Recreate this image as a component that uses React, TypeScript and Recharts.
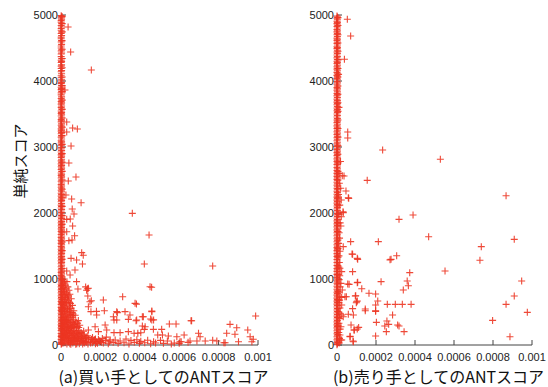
import React from 'react';
import { ScatterChart, Scatter, XAxis, YAxis } from 'recharts';

// x = ANT score in units of 1e-6, y = simple score

// (a) buyer: dense column sitting on x = 0
const buyerColumnY = [
  4990, 4955, 4915, 4890, 4840, 4795, 4770, 4720, 4665, 4640, 4590, 4530, 4500, 4455, 4410, 4370,
  4315, 4280, 4225, 4190, 4140, 4080, 4050, 4000, 3960, 3905, 3870, 3820, 3790, 3735, 3690, 3650,
  3600, 3545, 3510, 3470, 3415, 3380, 3330, 3275, 3240, 3200, 3150, 3095, 3060, 3020, 2970, 2925,
  2880, 2840, 2790, 2745, 2700, 2660, 2605, 2570, 2530, 2480, 2430, 2390, 2345, 2300, 2255, 2210,
  2170, 2120, 2075, 2030, 1985, 1940, 1895, 1850, 1805, 1760, 1720, 1675, 1630, 1585, 1540, 1495,
  1450, 1410, 1365, 1320, 1275, 1230, 1185, 1140, 1100, 1055, 1010, 965, 920, 880, 835, 790, 745,
  700, 660, 615, 570, 525, 480, 440, 395, 350, 305, 260, 220, 175, 130, 85, 40, 10,
];
const buyerColumnY1 = [
  4972, 4935, 4868, 4818, 4742, 4690, 4612, 4555, 4470, 4425, 4338, 4295, 4245, 4160, 4110, 4020,
  3975, 3930, 3885, 3845, 3760, 3712, 3668, 3622, 3575, 3525, 3488, 3440, 3398, 3350, 3305, 3255,
  3218, 3172, 3122, 3078, 3035, 2990, 2948, 2900, 2860, 2815, 2768, 2722, 2680, 2632, 2588, 2548,
  2500, 2455, 2410, 2368, 2322, 2278, 2232, 2190, 2145, 2098, 2052, 2008, 1962, 1918, 1872, 1828,
  1782, 1740, 1698, 1652, 1608, 1562, 1518, 1472, 1430, 1388, 1342, 1298, 1252, 1208, 1162, 1120,
  1078, 1032, 988, 942, 900, 858, 812, 768, 722, 680, 638, 592, 548, 502, 460, 418, 372, 328, 282,
  240, 198, 152, 108, 62, 22,
];
const buyerColumnY2 = [
  4975, 4870, 4745, 4610, 4480, 4340, 4200, 4060, 3930, 3840, 3710, 3570, 3440, 3300, 3170, 3040,
  2900, 2770, 2630, 2500, 2360, 2230, 2100, 1960, 1830, 1700, 1560, 1430, 1300, 1160, 1030, 900,
  770, 640, 510, 380, 250, 120,
];
const buyerPoints = [
  [36, 4818], [49, 4440], [154, 4167], [20, 3864], [29, 3379], [59, 3288], [83, 3273], [29, 3227],
  [51, 3015], [40, 2758], [37, 2485], [76, 2545], [25, 2273], [54, 2212], [102, 2156], [362, 1995],
  [57, 2060], [66, 1985], [29, 1904], [47, 1909], [59, 1803], [447, 1667], [29, 1717], [69, 1656],
  [40, 1581], [56, 1591], [105, 1399], [113, 1359], [51, 1313], [79, 1288], [423, 1227], [109, 1227],
  [770, 1197], [71, 1136], [29, 1121], [46, 1061], [79, 960], [460, 874], [134, 853], [125, 880],
  [86, 848],
  // dense cluster near the origin
  [8, 990], [15, 940], [22, 905], [12, 870], [30, 960], [35, 880], [6, 840], [18, 815], [27, 790],
  [40, 830], [10, 760], [24, 740], [33, 715], [45, 770], [52, 700], [7, 690], [16, 660], [28, 645],
  [38, 680], [48, 630], [12, 600], [22, 580], [35, 560], [58, 600], [44, 590], [6, 540], [18, 520],
  [30, 505], [42, 530], [55, 490], [65, 520], [10, 470], [24, 450], [36, 440], [48, 460], [60, 420],
  [72, 450], [14, 410], [5, 395], [17, 380], [28, 370], [40, 390], [52, 360], [64, 380], [76, 350],
  [88, 370], [9, 330], [21, 310], [33, 320], [45, 300], [57, 290], [69, 310], [82, 280], [95, 300],
  [14, 270], [26, 255], [38, 260], [50, 250], [62, 265], [6, 240], [18, 225], [30, 215], [42, 230],
  [54, 205], [66, 220], [78, 200], [90, 215], [102, 190], [115, 210], [8, 170], [20, 160], [32, 150],
  [44, 175], [56, 140], [68, 160], [80, 135], [92, 155], [104, 130], [118, 145], [130, 120], [12, 110],
  [24, 105], [36, 100], [5, 80], [16, 60], [27, 90], [38, 45], [49, 70], [60, 30], [71, 85], [82, 50],
  [93, 20], [104, 75], [115, 40], [126, 90], [137, 15], [148, 60], [159, 35], [170, 80], [185, 25],
  [198, 55], [10, 25], [30, 15], [50, 10], [75, 12], [4, 720], [4, 560], [4, 300], [4, 150], [10, 650],
  [20, 700], [25, 380], [35, 220], [45, 120], [55, 60], [65, 140], [85, 100], [95, 60], [110, 100],
  [120, 30], [15, 200], [28, 180], [40, 80], [48, 40], [60, 100], [70, 50], [80, 20], [90, 90],
  [100, 45], [112, 65], [125, 55], [140, 90], [150, 30], [165, 55], [180, 45], [190, 85],
  [3, 980], [9, 925], [19, 965], [26, 850], [14, 805], [31, 770], [21, 720], [37, 745], [8, 630],
  [26, 610], [42, 650], [17, 555], [33, 535], [50, 555], [8, 500], [26, 480], [44, 500], [62, 470],
  [20, 430], [32, 410], [46, 420], [56, 445], [11, 355], [24, 340], [36, 350], [48, 335], [60, 340],
  [72, 320], [84, 330], [5, 290], [17, 285], [29, 280], [41, 275], [53, 270], [66, 280], [78, 255],
  [90, 265], [11, 200], [24, 190], [36, 185], [48, 195], [60, 180], [72, 185], [84, 175], [96, 180],
  [108, 165], [4, 130], [16, 125], [28, 130], [40, 140], [52, 110], [64, 115], [76, 105], [88, 120],
  [100, 100], [124, 110], [136, 140], [5, 45], [20, 35], [35, 60], [45, 20], [65, 65], [85, 70],
  [110, 15], [130, 40], [155, 85], [175, 20], [205, 40], [225, 70], [245, 50],
  // spread along the bottom
  [139, 859], [130, 830], [215, 682], [147, 656], [152, 505], [180, 510], [220, 520], [283, 505],
  [325, 505], [376, 631], [383, 620], [313, 732], [136, 742], [154, 671], [139, 580], [461, 505],
  [181, 455], [266, 429], [283, 379], [384, 379], [418, 429], [461, 379], [470, 380], [173, 277],
  [224, 303], [139, 227], [190, 202], [232, 227], [427, 277], [286, 490], [350, 455], [269, 379],
  [342, 389], [381, 368], [413, 429], [461, 515], [550, 318], [584, 318], [660, 368], [413, 288],
  [423, 237], [469, 237], [511, 237], [269, 187], [300, 187], [342, 202], [371, 177], [390, 177],
  [405, 185], [491, 152], [515, 152], [545, 136], [588, 126], [625, 152], [698, 177], [706, 126],
  [250, 76], [275, 76], [300, 60], [330, 90], [355, 70], [385, 80], [405, 55], [440, 72], [470, 50],
  [505, 70], [540, 60], [575, 30], [610, 50], [645, 40], [690, 60], [732, 61], [791, 61], [210, 100],
  [230, 120], [160, 115], [175, 90], [195, 60], [215, 30], [240, 20], [265, 40], [290, 25], [320, 35],
  [345, 15], [372, 40], [398, 25], [425, 35], [455, 20], [480, 30], [520, 25], [560, 15], [600, 25],
  [833, 35], [901, 50], [969, 50], [988, 439], [858, 313], [892, 262], [948, 227], [841, 177],
  [883, 162], [960, 126], [976, 86], [770, 71], [827, 35], [663, 368], [604, 50], [655, 61],
  [452, 883], [455, 395],
];

// (b) seller
const sellerColumnY = [
  4985, 4950, 4905, 4870, 4825, 4780, 4745, 4700, 4650, 4615, 4570, 4520, 4490, 4440, 4395, 4350,
  4300, 4265, 4215, 4180, 4130, 4085, 4040, 3995, 3950, 3900, 3860, 3810, 3775, 3725, 3680, 3640,
  3590, 3550, 3500, 3455, 3410, 3370, 3320, 3280, 3230, 3190, 3140, 3095, 3050, 3005, 2960, 2915,
  2870, 2820, 2780, 2735, 2690, 2645, 2600, 2555, 2510, 2465, 2420, 2375, 2330, 2285, 2240, 2195,
  2150, 2105, 2060, 2015, 1970, 1925, 1880, 1835, 1790, 1745, 1700, 1655, 1610, 1565, 1520, 1475,
  1430, 1385, 1340, 1295, 1250, 1205, 1160, 1115, 1070, 1025, 980, 935, 890, 845, 800, 755, 710,
  665, 620, 575, 530, 485, 440, 395, 350, 305, 260, 215, 170, 125, 80, 35, 5,
];
const sellerColumnY1 = [
  4968, 4928, 4888, 4848, 4802, 4762, 4722, 4675, 4632, 4592, 4545, 4505, 4465, 4418, 4372, 4325,
  4282, 4240, 4198, 4155, 4108, 4062, 4018, 3972, 3925, 3880, 3835, 3792, 3750, 3702, 3660, 3615,
  3570, 3525, 3478, 3432, 3390, 3345, 3300, 3255, 3210, 3165, 3118, 3072, 3028, 2982, 2938, 2892,
  2845, 2800, 2758, 2712, 2668, 2622, 2578, 2532, 2488, 2442, 2398, 2352, 2308, 2262, 2218, 2172,
  2128, 2082, 2038, 1992, 1948, 1902, 1858, 1812, 1768, 1722, 1678, 1632, 1588, 1542, 1498, 1452,
  1408, 1362, 1318, 1272, 1228, 1182, 1138, 1092, 1048, 1002, 958, 912, 868, 822, 778, 732, 688,
  642, 598, 552, 508, 462, 418, 372, 328, 282, 238, 192, 148, 102, 58, 18,
];
const sellerColumnY2 = [
  4960, 4840, 4700, 4575, 4450, 4320, 4190, 4060, 3925, 3800, 3670, 3540, 3410, 3280, 3150, 3020,
  2890, 2760, 2630, 2500, 2370, 2240, 2110, 1980, 1850, 1720, 1590, 1460, 1330, 1200, 1070, 940,
  810, 680, 550, 420, 290, 160, 40,
];
const sellerPoints = [
  [53, 4935], [70, 4682], [38, 4329], [55, 3227], [55, 3136], [234, 2955], [530, 2814], [27, 2565],
  [36, 2560], [155, 2495], [19, 2374], [46, 2333], [58, 2232], [60, 2222], [867, 2262], [22, 2197],
  [31, 2020], [32, 2005], [390, 1970], [318, 1904], [22, 1944], [20, 1803], [470, 1641], [212, 1566],
  [70, 1566], [909, 1601], [32, 1490], [740, 1490], [80, 1374], [77, 1379], [306, 1353], [277, 1298],
  [272, 1290], [106, 1298], [104, 1313], [733, 1283], [15, 1162], [80, 1111], [24, 1111], [373, 1096],
  [554, 1121], [226, 960], [104, 944], [360, 970], [947, 970], [366, 898], [62, 919], [55, 924],
  [106, 949], [20, 934], [127, 853], [27, 833], [340, 833], [164, 783], [198, 773], [94, 742],
  [96, 747], [48, 732], [24, 722], [15, 732], [41, 732], [909, 742], [209, 667], [104, 667],
  [101, 656], [99, 641], [258, 616], [299, 616], [335, 616], [380, 616], [867, 616], [198, 606],
  [24, 606], [80, 551], [145, 545], [145, 520], [198, 520], [198, 510], [15, 480], [58, 465],
  [84, 454], [24, 454], [285, 454], [32, 429], [976, 495], [798, 373], [256, 363], [202, 343],
  [265, 313], [311, 303], [318, 288], [245, 288], [72, 303], [111, 267], [20, 277], [87, 227],
  [89, 227], [104, 242], [253, 202], [344, 202], [67, 131], [15, 152], [198, 136], [887, 126],
  [67, 126], [20, 76], [24, 76], [84, 50], [82, 61],
  [10, 2600], [12, 2450], [8, 2280], [14, 2120], [9, 1980], [16, 1850], [11, 1700], [13, 1620],
  [8, 1540], [15, 1420], [10, 1350], [12, 1250], [9, 1180], [14, 1050], [11, 990], [16, 880],
  [9, 800], [13, 680], [10, 640], [15, 560], [8, 500], [12, 400], [10, 330], [16, 240], [9, 190],
  [13, 100], [11, 30], [18, 2780], [10, 3600], [8, 4100],
];

const X_TICKS = [0, 0.0002, 0.0004, 0.0006, 0.0008, 0.001];
const Y_TICKS = [0, 1000, 2000, 3000, 4000, 5000];

const RED = '#ec3522';
const TICK_FONT = { fill: '#222', fontSize: 11, fontFamily: 'Liberation Sans, Arial, sans-serif' };

// columns: [x in 1e-6, list of y]
const buildRows = (columns: [number, number[]][], pts: number[][]) => [
  ...columns.flatMap(([x, ys]) => ys.map((y) => ({ x: x * 1e-6, y }))),
  ...pts.map(([x, y]) => ({ x: x * 1e-6, y })),
];

const buyerRows = buildRows(
  [[1, buyerColumnY], [3, buyerColumnY1], [6, buyerColumnY2]],
  buyerPoints,
);
const sellerRows = buildRows(
  [[0, sellerColumnY], [2, sellerColumnY1], [5, sellerColumnY2]],
  sellerPoints,
);

const Plus = (p: any) => (
  <path
    d={`M${p.cx - 3.5},${p.cy}h7M${p.cx},${p.cy - 3.5}v7`}
    stroke={RED}
    strokeOpacity={0.9}
    strokeWidth={1.1}
    fill="none"
  />
);

function Panel({ rows, caption, width, right }: { rows: any[]; caption: string; width: number; right: number }) {
  return (
    <ScatterChart width={width} height={387} margin={{ top: 15, right, bottom: 0, left: 0 }}>
      <XAxis
        xAxisId="b" type="number" dataKey="x" domain={[0, 0.001]} ticks={X_TICKS}
        height={42} tickSize={-5} tickMargin={13} stroke="#444" tick={TICK_FONT}
        tickFormatter={(v: number) => (v === 0 ? '0' : String(v))}
        label={{
          value: caption, position: 'insideBottom', offset: 4, dx: 4, fill: '#111', fontSize: 16,
          fontFamily: "'Noto Sans CJK JP', sans-serif",
        }}
      />
      <XAxis
        xAxisId="t" type="number" dataKey="x" orientation="top" domain={[0, 0.001]} ticks={X_TICKS}
        allowDataOverflow height={0} tickSize={-5} stroke="#999" tickFormatter={() => ''}
      />
      <YAxis
        yAxisId="l" type="number" dataKey="y" domain={[0, 5000]} ticks={Y_TICKS}
        width={61} tickSize={-5} tickMargin={8} stroke="#444" tick={TICK_FONT}
      />
      <YAxis
        yAxisId="r" type="number" dataKey="y" orientation="right" domain={[0, 5000]} ticks={Y_TICKS}
        allowDataOverflow width={0} tickSize={-5} stroke="#999" tickFormatter={() => ''}
      />
      <Scatter xAxisId="b" yAxisId="l" data={rows} shape={Plus} isAnimationActive={false} />
    </ScatterChart>
  );
}

export default function App() {
  return (
    <div style={{ position: 'absolute', left: 0, top: 0, width: 548, height: 387, background: '#fff' }}>
      <div style={{ position: 'absolute', left: 0, top: 0 }}>
        <Panel rows={buyerRows} caption="(a)買い手としてのANTスコア" width={275} right={17} />
      </div>
      <div style={{ position: 'absolute', left: 276, top: 0 }}>
        <Panel rows={sellerRows} caption="(b)売り手としてのANTスコア" width={272} right={16} />
      </div>
      <svg width={40} height={387} style={{ position: 'absolute', left: 0, top: 0 }}>
        <text
          x={19} y={161} transform="rotate(-90 19 161)" textAnchor="middle" dominantBaseline="central"
          fontSize={15} fill="#111" fontFamily="'Noto Sans CJK JP', sans-serif"
        >
          単純スコア
        </text>
      </svg>
    </div>
  );
}
